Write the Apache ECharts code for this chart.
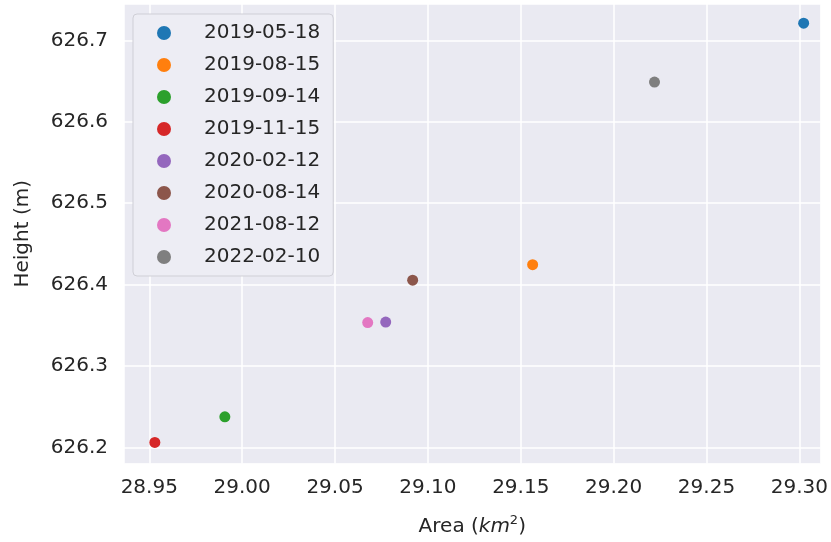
<!DOCTYPE html>
<html>
<head>
<meta charset="utf-8">
<script src="https://cdn.jsdelivr.net/npm/echarts@6/dist/echarts.min.js"></script>
<style>
html,body{margin:0;padding:0;background:#ffffff;}
#chart{width:831px;height:542px;}
</style>
</head>
<body>
<div id="chart"></div>
<script>
const dates = ['2019-05-18','2019-08-15','2019-09-14','2019-11-15','2020-02-12','2020-08-14','2021-08-12','2022-02-10'];
const areas = [29.3023, 29.1564, 28.9907, 28.9530, 29.0773, 29.0918, 29.0676, 29.2220];
const heights = [626.7212, 626.4244, 626.2374, 626.2060, 626.3539, 626.4054, 626.3533, 626.6488];
const colors = ['#1f77b4','#ff7f0e','#2ca02c','#d62728','#9467bd','#8c564b','#e377c2','#7f7f7f'];

const FONT = 'DejaVu Sans';
const TXT = '#262626';

const chart = echarts.init(document.getElementById('chart'), null, {renderer:'canvas'});
chart.setOption({
  animation: false,
  backgroundColor: '#ffffff',
  textStyle: {fontFamily: FONT},
  grid: {left:124, right:9, top:4, bottom:75, show:true, backgroundColor:'#EAEAF2', borderWidth:0, containLabel:false},
  legend: {
    orient:'vertical', left:133, top:14,
    padding:[9,13,9,24], itemGap:12, itemWidth:14, itemHeight:14,
    icon:'circle',
    backgroundColor:'#EDEDF4', borderColor:'#CFCFD6', borderWidth:1, borderRadius:4,
    textStyle:{fontFamily:FONT, fontSize:20, color:TXT, lineHeight:20, padding:[0,0,0,28]},
    data: dates
  },
  xAxis: {
    type:'value', min:28.9364, max:29.3114, splitNumber:7,
    axisLine:{show:false}, axisTick:{show:false},
    splitLine:{show:true, lineStyle:{color:'#ffffff', width:1.5}},
    axisLabel:{fontFamily:FONT, fontSize:20, color:TXT, margin:14, showMinLabel:false, showMaxLabel:false,
      formatter: v => v.toFixed(2)},
    name:'{n|Area (}{i|km}{s|2}{n|)}', nameLocation:'middle', nameGap:51,
    nameTextStyle:{rich:{
      n:{fontFamily:FONT, fontSize:20, color:TXT},
      i:{fontFamily:FONT, fontSize:20, color:TXT, fontStyle:'italic'},
      s:{fontFamily:FONT, fontSize:13, color:TXT, padding:[0,0,12,0]}
    }}
  },
  yAxis: {
    type:'value', min:626.1801, max:626.7448, splitNumber:5,
    axisLine:{show:false}, axisTick:{show:false},
    splitLine:{show:true, lineStyle:{color:'#ffffff', width:1.5}},
    axisLabel:{fontFamily:FONT, fontSize:20, color:TXT, margin:16, showMinLabel:false, showMaxLabel:false,
      formatter: v => v.toFixed(1)},
    name:'Height (m)', nameLocation:'middle', nameGap:91, nameRotate:90,
    nameTextStyle:{fontFamily:FONT, fontSize:20, color:TXT}
  },
  series: dates.map((d,i)=>({
    name:d, type:'scatter', symbolSize:11,
    itemStyle:{color:colors[i], opacity:1},
    data:[[areas[i], heights[i]]]
  }))
});
</script>
</body>
</html>
